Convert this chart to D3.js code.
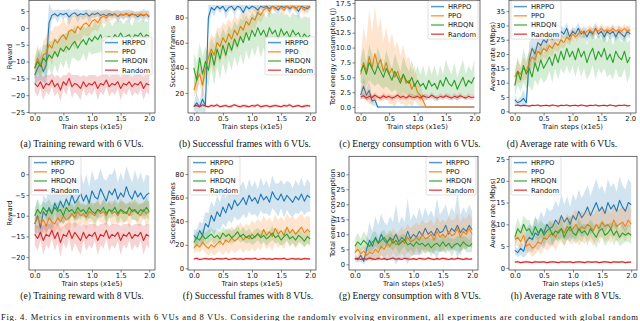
<!DOCTYPE html>
<html lang="en">
<head>
<meta charset="UTF-8">
<title>Fig. 4 - metrics with 6 and 8 VUs</title>
<style>
  body { margin: 0; background: #fff; }
  svg { display: block; }
  .tick text { font-family: "DejaVu Sans", sans-serif; font-size: 6.8px; fill: #111; }
  .tick line { stroke: #333; stroke-width: 0.6; }
  .axis-title { font-family: "DejaVu Sans", sans-serif; font-size: 6.8px; fill: #111; }
  .legend text { font-family: "DejaVu Sans", sans-serif; font-size: 6.8px; fill: #111; }
  .sub { font-family: "Liberation Serif", serif; font-size: 9.6px; fill: #111; }
</style>
<script src="https://cdn.jsdelivr.net/npm/d3@7"></script>
</head>
<body>
<svg id="fig" width="640" height="321"></svg>
<script>
// x grid: 41 logged points, 0.0 .. 2.0 (x1e5 train steps)
const steps = d3.range(41).map(i => i / 20);
const methods = ['HRPPO', 'PPO', 'HRDQN', 'Random'];
const colors = ['#1f77b4', '#ff7f0e', '#2ca02c', '#d62728'];
const xTicks = [0, 0.5, 1.0, 1.5, 2.0];

// (a) training reward, 6 VUs
const rew6_hrppo = [-14, -12, -10.5, -13, -11, 1.5, 3.8, 4.2, 3.5, 4.3, 3.9, 4.4, 3.2, 4.1, 4.5, 3.6, 4.2, 3.9, 4.4, 3.5, 4.2, 4.0, 4.5, 3.7, 4.1, 3.6, 4.3, 3.9, 4.2, 3.4, 4.0, 3.8, 4.3, 3.5, 4.1, 3.9, 3.3, 4.0, 3.6, 4.1, 3.3];
const rew6_ppo = [-12, -9, -11, -8, -7.5, -5, -6, -3.5, -4.5, -3, -2, -3.5, -1, -0.5, -1.5, 0.5, -0.5, 1, 1.5, 0.5, 2, 2.5, 1.5, 3, 3.5, 3, 3.8, 3.6, 4, 3.5, 4.2, 3.8, 4.1, 3.9, 4.3, 3.7, 4.0, 4.2, 3.8, 4.1, 3.6];
const rew6_hrdqn = [-12, -10, -11.5, -9, -10, -8, -9, -7, -8.5, -6, -7, -5.5, -6.5, -5, -4, -6, -4.5, -3.5, -5, -3, -4, -2.5, -3.5, -2, -4, -3, -2.5, -3.5, -2, -3, -1.5, -3, -2.5, -2, -3.5, -2, -2.5, -1.5, -3, -2, -2.5];
const rew6_random = [-16.5, -17.5, -16, -18, -16.5, -17, -15.5, -17.5, -16.5, -18.5, -16, -17, -15, -17.5, -16.5, -17, -18, -16, -17.5, -16.5, -17, -16, -18, -16.5, -17, -15.5, -17.5, -16.5, -17, -16, -18, -16.5, -17, -16, -17.5, -16.5, -17, -16, -18, -16.5, -17];
const rew6_hrppo_sd = [3, 4, 5, 3, 6, 6, 1.5, 1, 2, 1, 1.5, 1, 2.5, 1, 1, 2, 1, 1.5, 1, 2, 1, 1, 1, 1.5, 1, 2, 1, 1, 1, 2, 1, 1.5, 1, 2, 1, 1, 1.5, 1, 2, 1, 2];
const rew6_ppo_sd = [3, 4, 3, 4, 5, 4, 5, 4, 5, 4, 5, 4, 5, 4, 5, 4, 4, 3, 4, 3, 3, 3, 2.5, 2, 2, 2, 1.5, 1.5, 1, 1.5, 1, 1, 1, 1, 1, 1, 1, 1, 1, 1, 1];
const rew6_hrdqn_sd = [3, 4, 3, 4, 5, 4, 5, 4, 5, 4, 5, 4, 6, 4, 5, 4, 5, 4, 5, 4, 4, 5, 4, 5, 4, 4, 5, 4, 4, 5, 4, 4, 5, 4, 4, 5, 4, 4, 5, 4, 4];
const rew6_random_sd = [2.5, 3, 2, 3.5, 2.5, 3, 2, 3, 2.5, 3.5, 2, 3, 2, 3.5, 2.5, 3, 3.5, 2, 3, 2.5, 3, 2, 3.5, 2.5, 3, 2, 3, 2.5, 3, 2, 3.5, 2.5, 3, 2, 3, 2.5, 3, 2, 3.5, 2.5, 3];

// (b) successful frames, 6 VUs
const frm6_hrppo = [9, 12, 9, 15, 10, 80, 88, 86, 89, 87, 89, 85, 88, 89, 86, 89, 88, 84, 89, 87, 89, 88, 86, 89, 88, 89, 87, 89, 88, 86, 89, 88, 89, 87, 89, 88, 85, 89, 88, 87, 89];
const frm6_ppo = [22, 30, 35, 26, 40, 48, 55, 50, 60, 57, 64, 60, 67, 63, 70, 66, 73, 70, 77, 74, 80, 78, 84, 82, 86, 88, 85, 89, 87, 89, 88, 86, 89, 88, 89, 87, 89, 88, 86, 89, 88];
const frm6_hrdqn = [40, 30, 48, 35, 45, 38, 52, 42, 55, 47, 58, 50, 60, 54, 63, 57, 65, 60, 68, 62, 70, 65, 72, 66, 70, 64, 72, 67, 70, 63, 71, 66, 69, 64, 70, 66, 68, 63, 67, 64, 66];
const frm6_random = [9.5, 10, 9, 10.5, 9.5, 9, 10, 9.5, 10.5, 9, 9.5, 10, 9, 9.5, 10.5, 9.5, 9, 10, 9.5, 9, 10, 9.5, 10.5, 9, 9.5, 10, 9, 9.5, 10, 9.5, 9, 10, 9.5, 10.5, 9, 9.5, 10, 9, 9.5, 10, 9.5];
const frm6_hrppo_sd = [3, 8, 4, 10, 6, 10, 4, 5, 2, 4, 2, 6, 3, 2, 5, 2, 3, 6, 2, 4, 2, 3, 5, 2, 3, 2, 4, 2, 3, 5, 2, 3, 2, 4, 2, 3, 6, 2, 3, 4, 2];
const frm6_ppo_sd = [6, 8, 8, 10, 10, 12, 12, 14, 12, 14, 12, 14, 12, 12, 12, 12, 10, 10, 10, 8, 8, 8, 6, 6, 5, 3, 5, 2, 3, 2, 3, 4, 2, 3, 2, 3, 2, 3, 4, 2, 3];
const frm6_hrdqn_sd = [12, 14, 12, 14, 12, 14, 12, 16, 14, 16, 14, 16, 14, 16, 14, 16, 14, 18, 14, 16, 14, 16, 14, 18, 14, 16, 14, 16, 14, 18, 14, 16, 14, 16, 14, 16, 14, 16, 14, 16, 14];
const frm6_random_sd = [1, 1.5, 1, 1.5, 1, 1, 1.5, 1, 1.5, 1, 1, 1.5, 1, 1.5, 1, 1, 1.5, 1, 1.5, 1, 1, 1.5, 1, 1.5, 1, 1, 1.5, 1, 1.5, 1, 1, 1.5, 1, 1.5, 1, 1, 1.5, 1, 1.5, 1, 1];

// (c) energy consumption, 6 VUs
const eng6_hrppo = [2.0, 3.5, 2.0, 2.8, 1.0, 1.2, 0, 0, 0, 0, 0, 0, 0, 0, 0, 0, 0, 0, 0, 0, 0, 0, 0, 0, 0, 0, 0, 0, 0, 0, 0, 0, 0, 0, 0, 0, 0, 0, 0, 0, 0];
const eng6_ppo = [5.5, 7.5, 6, 8.5, 6.5, 9, 7, 8, 6, 7.5, 5.5, 6.5, 5, 6, 4.5, 5.5, 4, 4.5, 3, 4, 2.5, 2, 1, 0, 0, 0, 0, 0, 0, 0, 0, 0, 0, 0, 0, 0, 0, 0, 0, 0, 0];
const eng6_hrdqn = [6, 7, 5.5, 7.5, 6.5, 5.5, 7, 6, 5, 6.5, 5.5, 4.5, 6, 5, 4, 5.5, 4.5, 4, 5, 3.5, 4.5, 3.5, 4, 3, 4.5, 3.5, 4, 3, 4.5, 3.5, 5, 4, 3.5, 4.5, 3, 4, 5, 3.5, 4.5, 4, 5];
const eng6_random = [1.7, 1.9, 1.5, 1.8, 1.6, 2.0, 1.7, 1.5, 1.9, 1.6, 1.8, 1.5, 1.7, 2.0, 1.6, 1.8, 1.5, 1.9, 1.7, 1.6, 1.8, 1.5, 1.9, 1.7, 1.6, 2.0, 1.7, 1.5, 1.8, 1.6, 1.9, 1.7, 1.5, 1.8, 1.6, 1.9, 1.7, 1.5, 1.8, 1.6, 1.7];
const eng6_hrppo_sd = [1.0, 1.5, 1.0, 1.5, 0.8, 1.0, 0.2, 0, 0, 0, 0, 0, 0, 0, 0, 0, 0, 0, 0, 0, 0, 0, 0, 0, 0, 0, 0, 0, 0, 0, 0, 0, 0, 0, 0, 0, 0, 0, 0, 0, 0];
const eng6_ppo_sd = [3, 6, 5, 8, 6, 8, 6, 7, 5, 6, 5, 6, 5, 5, 4, 5, 4, 4, 3, 3, 2, 2, 1, 0, 0, 0, 0, 0, 0, 0, 0, 0, 0, 0, 0, 0, 0, 0, 0, 0, 0];
const eng6_hrdqn_sd = [2, 3, 2, 3, 2.5, 2, 3, 2.5, 2, 3, 2.5, 2, 3, 2.5, 2, 3, 2.5, 2, 3, 2, 2.5, 2, 3, 2, 2.5, 2, 3, 2, 2.5, 2, 3, 2.5, 2, 3, 2, 2.5, 3, 2, 2.5, 2, 3];
const eng6_random_sd = [0.4, 0.5, 0.3, 0.5, 0.4, 0.5, 0.3, 0.4, 0.5, 0.4, 0.4, 0.5, 0.3, 0.5, 0.4, 0.5, 0.3, 0.4, 0.5, 0.4, 0.4, 0.5, 0.3, 0.5, 0.4, 0.5, 0.3, 0.4, 0.5, 0.4, 0.4, 0.5, 0.3, 0.5, 0.4, 0.5, 0.3, 0.4, 0.5, 0.4, 0.4];

// (d) average rate, 6 VUs
const rate6_hrppo = [4, 3, 3.5, 4.5, 3, 18, 22, 20, 24, 23, 25, 24, 27, 25, 27, 26, 28, 27, 29, 26, 28, 27, 29, 27, 28, 26, 28, 27, 29, 27, 28, 26, 28, 27, 28, 26, 28, 27, 26, 28, 27];
const rate6_ppo = [12, 14, 13, 15, 14, 17, 19, 18, 21, 20, 22, 21, 23, 22, 24, 23, 25, 24, 26, 25, 27, 26, 27, 28, 27, 28, 28.5, 27.5, 28.5, 28, 29, 28, 28.5, 28, 29, 28, 28.5, 28, 29, 28, 28.5];
const rate6_hrdqn = [9, 14, 11, 16, 13, 15, 12, 17, 14, 18, 15, 17, 19, 16, 20, 17, 21, 18, 22, 19, 21, 18, 22, 19, 21, 17, 20, 22, 18, 21, 19, 22, 18, 20, 17, 21, 19, 18, 21, 17, 19];
const rate6_random = [2.0, 2.2, 1.9, 2.1, 2.0, 1.8, 2.1, 2.0, 2.2, 1.9, 2.0, 2.1, 1.9, 2.2, 2.0, 1.8, 2.1, 2.0, 2.2, 1.9, 2.0, 2.1, 1.9, 2.2, 2.0, 1.8, 2.1, 2.0, 2.2, 1.9, 2.0, 2.1, 1.9, 2.2, 2.0, 1.8, 2.1, 2.0, 2.2, 1.9, 2.0];
const rate6_hrppo_sd = [1.5, 1, 1.5, 3, 1.5, 6, 4, 5, 3, 4, 3, 3, 2, 3, 2, 2, 2, 2, 2, 2, 1.5, 2, 2, 1.5, 2, 2, 1.5, 2, 2, 1.5, 2, 2, 1.5, 2, 2, 1.5, 2, 2, 1.5, 2, 1.5];
const rate6_ppo_sd = [3, 4, 3, 4, 3, 4, 4, 3, 4, 3, 3, 3, 3, 3, 2.5, 2.5, 2.5, 2, 2, 2, 2, 2, 1.5, 1.5, 1.5, 1.5, 1.5, 1.5, 1.5, 1.5, 1.5, 1.5, 1.5, 1.5, 1.5, 1.5, 1.5, 1.5, 1.5, 1.5, 1.5];
const rate6_hrdqn_sd = [4, 5, 4, 6, 5, 6, 5, 6, 5, 6, 5, 6, 5, 6, 5, 6, 6, 5, 6, 6, 5, 6, 6, 7, 6, 6, 7, 6, 7, 6, 6, 7, 6, 7, 6, 6, 7, 6, 6, 7, 6];
const rate6_random_sd = [0.3, 0.3, 0.2, 0.3, 0.3, 0.2, 0.3, 0.3, 0.2, 0.3, 0.3, 0.3, 0.2, 0.3, 0.3, 0.2, 0.3, 0.3, 0.2, 0.3, 0.3, 0.3, 0.2, 0.3, 0.3, 0.2, 0.3, 0.3, 0.2, 0.3, 0.3, 0.3, 0.2, 0.3, 0.3, 0.2, 0.3, 0.3, 0.2, 0.3, 0.3];

// (e) training reward, 8 VUs
const rew8_hrppo = [-12, -10, -13, -9, -10, -8, -9.5, -7, -8.5, -6.5, -8, -6, -7.5, -5, -7, -6, -4.5, -6.5, -5, -7, -4, -5.5, -6, -3.5, -5, -6.5, -4, -5, -3.5, -6, -4.5, -5.5, -3, -5, -6, -4, -5.5, -4.5, -6, -5, -4.5];
const rew8_ppo = [-12, -10.5, -12, -11, -12.5, -10.5, -11.5, -12, -10.5, -11.5, -10, -11, -10.5, -9.5, -10.5, -9, -10, -9.5, -10.5, -9, -9.5, -10, -8.5, -9.5, -9, -10, -8.5, -9.5, -9, -10, -8.5, -9.5, -9, -10, -8.5, -9, -9.5, -10, -8.5, -9.5, -9];
const rew8_hrdqn = [-10, -8.5, -9.5, -8, -9, -8.5, -9.5, -8, -9, -8.5, -10, -8, -9, -8.5, -9.5, -8, -9, -8.5, -9.5, -8, -9, -9.5, -8.5, -9, -8, -9.5, -8.5, -9, -8, -9.5, -8.5, -9, -9.5, -8, -9, -8.5, -9.5, -8.5, -9, -8, -9];
const rew8_random = [-14.5, -15.5, -14, -16, -14.5, -15, -13.5, -15.5, -14, -16.5, -14.5, -15, -13.5, -15.5, -14, -15, -16, -14, -15.5, -14.5, -15, -14, -16, -14.5, -15, -13.5, -15.5, -14.5, -15, -14, -16, -14.5, -15, -14, -15.5, -14.5, -15, -14, -16, -14.5, -15];
const rew8_hrppo_sd = [3, 4, 3, 4, 4, 5, 4, 5, 4, 5, 4, 5, 4, 5, 4, 5, 5, 4, 5, 4, 5, 4, 5, 5, 4, 5, 4, 5, 5, 4, 5, 4, 5, 5, 4, 5, 4, 5, 4, 5, 4];
const rew8_ppo_sd = [2, 2.5, 2, 3, 2, 2.5, 3, 2, 2.5, 3, 2, 2.5, 3, 2, 2.5, 3, 2.5, 2, 3, 2.5, 2, 3, 2.5, 2, 3, 2.5, 2, 3, 2.5, 2, 3, 2.5, 2, 3, 2.5, 2, 3, 2.5, 2, 3, 2.5];
const rew8_hrdqn_sd = [2, 2.5, 2, 1.5, 2, 2.5, 2, 1.5, 2, 2.5, 2, 2.5, 2, 1.5, 2, 2.5, 2, 1.5, 2, 2.5, 2, 2.5, 2, 1.5, 2, 2.5, 2, 1.5, 2, 2.5, 2, 2.5, 2, 1.5, 2, 2.5, 2, 1.5, 2, 2.5, 2];
const rew8_random_sd = [2.5, 3, 2, 3.5, 2.5, 3, 2, 3, 2.5, 3.5, 2, 3, 2, 3.5, 2.5, 3, 3.5, 2, 3, 2.5, 3, 2, 3.5, 2.5, 3, 2, 3, 2.5, 3, 2, 3.5, 2.5, 3, 2, 3, 2.5, 3, 2, 3.5, 2.5, 3];

// (f) successful frames, 8 VUs
const frm8_hrppo = [28, 25, 32, 28, 38, 35, 45, 40, 48, 44, 52, 47, 55, 50, 58, 53, 56, 60, 54, 62, 57, 60, 55, 63, 58, 61, 56, 65, 60, 58, 63, 57, 62, 59, 56, 61, 58, 63, 57, 62, 60];
const frm8_ppo = [17, 20, 18, 22, 19, 17, 20, 18, 21, 23, 20, 24, 22, 26, 23, 25, 28, 24, 27, 25, 29, 26, 30, 27, 33, 28, 31, 27, 34, 29, 32, 28, 35, 30, 33, 29, 32, 35, 30, 33, 31];
const frm8_hrdqn = [22, 26, 24, 28, 25, 27, 29, 26, 28, 25, 30, 27, 29, 26, 28, 31, 27, 29, 26, 28, 25, 27, 29, 26, 28, 25, 27, 30, 26, 28, 24, 27, 29, 25, 27, 24, 28, 26, 23, 27, 25];
const frm8_random = [8, 8.5, 7.5, 8, 8.4, 7.8, 8.2, 7.6, 8.3, 8, 8, 8.5, 7.5, 8, 8.4, 7.8, 8.2, 7.6, 8.3, 8, 8, 8.5, 7.5, 8, 8.4, 7.8, 8.2, 7.6, 8.3, 8, 8, 8.5, 7.5, 8, 8.4, 7.8, 8.2, 7.6, 8.3, 8, 8];
const frm8_hrppo_sd = [5, 8, 8, 10, 10, 12, 12, 12, 14, 12, 14, 12, 14, 12, 14, 12, 14, 14, 12, 14, 12, 14, 12, 14, 12, 14, 12, 14, 12, 14, 12, 14, 12, 14, 12, 14, 12, 14, 12, 14, 12];
const frm8_ppo_sd = [4, 5, 5, 6, 6, 6, 7, 7, 8, 8, 9, 9, 10, 10, 10, 10, 11, 11, 11, 11, 12, 12, 12, 12, 12, 12, 12, 12, 12, 12, 12, 12, 12, 12, 12, 12, 12, 12, 12, 12, 12];
const frm8_hrdqn_sd = [5, 6, 5, 6, 5, 6, 5, 6, 5, 6, 5, 6, 5, 6, 5, 6, 5, 6, 5, 6, 5, 6, 5, 6, 5, 6, 5, 6, 5, 6, 5, 6, 5, 6, 5, 6, 5, 6, 5, 6, 5];
const frm8_random_sd = [1, 1.2, 1, 1.2, 1, 1, 1.2, 1, 1.2, 1, 1, 1.2, 1, 1.2, 1, 1, 1.2, 1, 1.2, 1, 1, 1.2, 1, 1.2, 1, 1, 1.2, 1, 1.2, 1, 1, 1.2, 1, 1.2, 1, 1, 1.2, 1, 1.2, 1, 1];

// (g) energy consumption, 8 VUs
const eng8_hrppo = [2, 1.5, 3, 1, 5, 8, 6, 9, 7, 10, 8, 7, 9, 8, 10, 7.5, 9, 8, 11, 8.5, 10, 9, 11, 9.5, 12, 10, 11, 9.5, 12, 10.5, 11, 13, 10, 12, 11, 13, 10.5, 12, 11, 13, 11.5];
const eng8_ppo = [4, 5, 3.5, 4.5, 3, 4, 3.5, 5, 4, 6, 5, 7, 6, 8, 6.5, 7, 8, 7, 9, 7.5, 8, 9, 8, 10, 8.5, 9, 10, 8, 11, 9, 10, 9, 11, 9.5, 10, 12, 9, 11, 10, 12, 10];
const eng8_hrdqn = [6, 7.5, 6.5, 8, 7, 6, 7.5, 8.5, 7, 8, 9, 7.5, 8.5, 7, 8, 6.5, 7.5, 8, 6.5, 7, 6, 7.5, 6.5, 7, 6, 7, 5.5, 6.5, 7, 6, 7.5, 6, 7, 5.5, 6.5, 7, 6, 7.5, 6.5, 6, 7];
const eng8_random = [1.8, 2.0, 1.6, 1.9, 1.7, 2.1, 1.8, 1.6, 2.0, 1.7, 1.9, 1.6, 1.8, 2.1, 1.7, 1.9, 1.6, 2.0, 1.8, 1.7, 1.9, 1.6, 2.0, 1.8, 1.7, 2.1, 1.8, 1.6, 1.9, 1.7, 2.0, 1.8, 1.6, 1.9, 1.7, 2.0, 1.8, 1.6, 1.9, 1.7, 1.8];
const eng8_hrppo_sd = [1, 1, 2, 1, 4, 6, 5, 7, 6, 7, 6, 6, 7, 6, 10, 6, 7, 6, 11, 6, 7, 6, 8, 6, 7, 6, 7, 6, 10, 6, 7, 7, 6, 7, 6, 11, 6, 7, 6, 7, 6];
const eng8_ppo_sd = [2, 2, 2, 2, 2, 2.5, 2.5, 3, 3, 3, 3.5, 3.5, 4, 4, 4, 4, 4.5, 4.5, 4.5, 4.5, 5, 5, 5, 5, 5, 5, 5, 5, 5, 5, 5, 5, 5, 5, 5, 5, 5, 5, 5, 5, 5];
const eng8_hrdqn_sd = [2.5, 3, 2, 3, 2.5, 2, 3, 2.5, 2, 3, 2.5, 2, 3, 2.5, 2, 3, 2.5, 2, 3, 2, 2.5, 2, 3, 2, 2.5, 2, 3, 2, 2.5, 2, 3, 2.5, 2, 3, 2, 2.5, 3, 2, 2.5, 2, 3];
const eng8_random_sd = [0.4, 0.5, 0.3, 0.5, 0.4, 0.5, 0.3, 0.4, 0.5, 0.4, 0.4, 0.5, 0.3, 0.5, 0.4, 0.5, 0.3, 0.4, 0.5, 0.4, 0.4, 0.5, 0.3, 0.5, 0.4, 0.5, 0.3, 0.4, 0.5, 0.4, 0.4, 0.5, 0.3, 0.5, 0.4, 0.5, 0.3, 0.4, 0.5, 0.4, 0.4];

// (h) average rate, 8 VUs
const rate8_hrppo = [4, 3.5, 4.5, 3.8, 6, 7, 6.5, 8, 7.5, 9, 8, 10, 9, 9.5, 11, 10, 12, 10.5, 11.5, 10, 12, 11, 13, 11.5, 12.5, 14, 12, 13.5, 15, 13, 14, 12.5, 15, 13.5, 14.5, 13, 15.5, 14, 13, 15, 14.5];
const rate8_ppo = [6.5, 7, 6, 7.5, 5, 5.5, 4.5, 5, 6, 5.5, 7, 6.5, 7.5, 8, 7, 8.5, 9, 8, 9.5, 8.5, 9, 10, 8.5, 9.5, 9, 10, 9.5, 8.5, 10, 9, 10.5, 9.5, 10, 9, 11, 9.5, 10, 10.5, 9.5, 11, 10];
const rate8_hrdqn = [7, 9, 8, 10, 8.5, 9, 7.5, 9.5, 8, 9, 7.5, 8.5, 9, 7.5, 8.5, 8, 9, 7, 8.5, 9.5, 8, 7.5, 9, 8, 8.5, 7.5, 9, 8, 7, 8.5, 9, 7.5, 8, 9, 7.5, 8.5, 7, 8, 7.5, 8, 7.5];
const rate8_random = [1.3, 1.4, 1.2, 1.3, 1.4, 1.3, 1.2, 1.4, 1.3, 1.3, 1.4, 1.2, 1.3, 1.4, 1.3, 1.2, 1.4, 1.3, 1.3, 1.4, 1.2, 1.3, 1.4, 1.3, 1.2, 1.4, 1.3, 1.3, 1.4, 1.2, 1.3, 1.4, 1.3, 1.2, 1.4, 1.3, 1.3, 1.4, 1.2, 1.3, 1.3];
const rate8_hrppo_sd = [1, 1, 1.5, 1.5, 3, 3, 3, 3.5, 3.5, 4, 3.5, 4, 4, 4, 4.5, 4, 5, 4, 5, 4, 5, 4.5, 5, 4.5, 5, 5, 4.5, 5, 5.5, 5, 5, 4.5, 5.5, 5, 5, 4.5, 5.5, 5, 5, 5.5, 5];
const rate8_ppo_sd = [1.5, 2, 1.5, 2, 1.5, 2, 2, 2, 2, 2.5, 2.5, 2.5, 3, 3, 3, 3, 3, 3, 3, 3, 3.5, 3.5, 3.5, 3.5, 3.5, 3.5, 3.5, 3.5, 3.5, 3.5, 3.5, 3.5, 3.5, 3.5, 3.5, 3.5, 3.5, 3.5, 3.5, 3.5, 3.5];
const rate8_hrdqn_sd = [2, 2.5, 1.5, 2, 2.5, 2, 1.5, 2.5, 2, 2, 2.5, 1.5, 2, 2.5, 2, 1.5, 2.5, 2, 2, 2.5, 1.5, 2, 2.5, 2, 1.5, 2.5, 2, 2, 2.5, 1.5, 2, 2.5, 2, 1.5, 2.5, 2, 2, 2.5, 1.5, 2, 2];
const rate8_random_sd = [0.2, 0.3, 0.2, 0.2, 0.3, 0.2, 0.2, 0.3, 0.2, 0.2, 0.3, 0.2, 0.2, 0.3, 0.2, 0.2, 0.3, 0.2, 0.2, 0.3, 0.2, 0.2, 0.3, 0.2, 0.2, 0.3, 0.2, 0.2, 0.3, 0.2, 0.2, 0.3, 0.2, 0.2, 0.3, 0.2, 0.2, 0.3, 0.2, 0.2, 0.2];

const figCaption = 'Fig. 4.  Metrics in environments with 6 VUs and 8 VUs. Considering the randomly evolving environment, all experiments are conducted with global random';

// layout for each subplot: plot box [left, top, right, bottom]
const panels = [
  { id: 'a', box: [29, 0, 155, 113], ylim: [-25.3, 8.3], yticks: [-25, -20, -15, -10, -5, 0, 5], yfmt: 'd',
    ylabel: 'Reward', ylabelX: 10, caption: '(a) Training reward with 6 VUs.', capX: 82, capY: 147, legend: [102, 37],
    means: [rew6_hrppo, rew6_ppo, rew6_hrdqn, rew6_random], sds: [rew6_hrppo_sd, rew6_ppo_sd, rew6_hrdqn_sd, rew6_random_sd] },
  { id: 'b', box: [188, 0, 316, 113], ylim: [4, 94], yticks: [20, 40, 60, 80], yfmt: 'd', cap: 90,
    ylabel: 'Successful frames', ylabelX: 173, caption: '(b) Successful frames with 6 VUs.', capX: 245, capY: 147, legend: [265, 37],
    means: [frm6_hrppo, frm6_ppo, frm6_hrdqn, frm6_random], sds: [frm6_hrppo_sd, frm6_ppo_sd, frm6_hrdqn_sd, frm6_random_sd] },
  { id: 'c', box: [355, 0, 480, 113], ylim: [-1.0, 18.0], yticks: [0, 2.5, 5, 7.5, 10, 12.5, 15, 17.5], yfmt: '.1f',
    ylabel: 'Total energy consumption (J)', ylabelX: 333, caption: '(c) Energy consumption with 6 VUs.', capX: 410, capY: 147, legend: [428, 1],
    means: [eng6_hrppo, eng6_ppo, eng6_hrdqn, eng6_random], sds: [eng6_hrppo_sd, eng6_ppo_sd, eng6_hrdqn_sd, eng6_random_sd] },
  { id: 'd', box: [509, 0, 636, 113], ylim: [-0.6, 38.9], yticks: [0, 5, 10, 15, 20, 25, 30, 35], yfmt: 'd',
    ylabel: 'Average rate (Mbps)', ylabelX: 493, caption: '(d) Average rate with 6 VUs.', capX: 562, capY: 147, legend: [511, 1],
    means: [rate6_hrppo, rate6_ppo, rate6_hrdqn, rate6_random], sds: [rate6_hrppo_sd, rate6_ppo_sd, rate6_hrdqn_sd, rate6_random_sd] },
  { id: 'e', box: [29, 156, 155, 270], ylim: [-23.1, 4.4], yticks: [-20, -15, -10, -5, 0], yfmt: 'd',
    ylabel: 'Reward', ylabelX: 10, caption: '(e) Training reward with 8 VUs.', capX: 82, capY: 299, legend: [31, 157],
    means: [rew8_hrppo, rew8_ppo, rew8_hrdqn, rew8_random], sds: [rew8_hrppo_sd, rew8_ppo_sd, rew8_hrdqn_sd, rew8_random_sd] },
  { id: 'f', box: [188, 156, 316, 270], ylim: [-1.4, 95.3], yticks: [0, 20, 40, 60, 80], yfmt: 'd',
    ylabel: 'Successful frames', ylabelX: 173, caption: '(f) Successful frames with 8 VUs.', capX: 248, capY: 299, legend: [190, 157],
    means: [frm8_hrppo, frm8_ppo, frm8_hrdqn, frm8_random], sds: [frm8_hrppo_sd, frm8_ppo_sd, frm8_hrdqn_sd, frm8_random_sd] },
  { id: 'g', box: [349, 156, 478, 270], ylim: [-1.9, 36.1], yticks: [0, 5, 10, 15, 20, 25, 30], yfmt: 'd',
    ylabel: 'Total energy consumption', ylabelX: 333, caption: '(g) Energy consumption with 8 VUs.', capX: 410, capY: 299, legend: [426, 157],
    means: [eng8_hrppo, eng8_ppo, eng8_hrdqn, eng8_random], sds: [eng8_hrppo_sd, eng8_ppo_sd, eng8_hrdqn_sd, eng8_random_sd] },
  { id: 'h', box: [509, 156, 637, 270], ylim: [-0.5, 25.7], yticks: [0, 5, 10, 15, 20, 25], yfmt: 'd',
    ylabel: 'Average rate (Mbps)', ylabelX: 493, caption: '(h) Average rate with 8 VUs.', capX: 566, capY: 299, legend: [511, 157],
    means: [rate8_hrppo, rate8_ppo, rate8_hrdqn, rate8_random], sds: [rate8_hrppo_sd, rate8_ppo_sd, rate8_hrdqn_sd, rate8_random_sd] }
];

const svg = d3.select('#fig');
const defs = svg.append('defs');
const minus = s => s.replace('-', '\u2212');

panels.forEach(drawPanel);

svg.append('text')
  .attr('class', 'sub')
  .attr('x', 1).attr('y', 320)
  .attr('textLength', 637).attr('lengthAdjust', 'spacing')
  .style('font-size', '8.6px')
  .text(figCaption);

function drawPanel(p) {
  const [x0, y0, x1, y1] = p.box;
  const x = d3.scaleLinear().domain([-0.1, 2.1]).range([x0, x1]);
  const y = d3.scaleLinear().domain(p.ylim).range([y1, y0]);
  const g = svg.append('g').attr('class', 'panel-' + p.id);

  defs.append('clipPath').attr('id', 'clip-' + p.id)
    .append('rect').attr('x', x0).attr('y', y0).attr('width', x1 - x0).attr('height', y1 - y0);

  const plot = g.append('g').attr('clip-path', `url(#clip-${p.id})`);
  const top = v => p.cap !== undefined ? Math.min(v, p.cap) : v;

  p.means.forEach((m, k) => {
    const sd = p.sds[k];
    const band = d3.area()
      .x((d, i) => x(steps[i]))
      .y0((d, i) => y(m[i] - sd[i]))
      .y1((d, i) => y(top(m[i] + sd[i])));
    plot.append('path').datum(m)
      .attr('d', band)
      .attr('fill', colors[k])
      .attr('fill-opacity', 0.2);

    const line = d3.line().x((d, i) => x(steps[i])).y(d => y(d));
    plot.append('path').datum(m)
      .attr('d', line)
      .attr('fill', 'none')
      .attr('stroke', colors[k])
      .attr('stroke-width', 1.1)
      .attr('stroke-linejoin', 'round');
  });

  // axes
  const xAxis = d3.axisBottom(x).tickValues(xTicks).tickFormat(d3.format('.1f')).tickSize(2.5).tickPadding(1);
  g.append('g').attr('transform', `translate(0,${y1})`).call(xAxis)
    .call(a => a.select('.domain').remove());

  const fmt = d3.format(p.yfmt);
  const yAxis = d3.axisLeft(y).tickValues(p.yticks).tickFormat(d => minus(fmt(d))).tickSize(2.5).tickPadding(1.5);
  g.append('g').attr('transform', `translate(${x0},0)`).call(yAxis)
    .call(a => a.select('.domain').remove());

  g.append('rect')
    .attr('x', x0).attr('y', y0 + 0.3)
    .attr('width', x1 - x0).attr('height', y1 - y0 - 0.3)
    .attr('fill', 'none').attr('stroke', '#333').attr('stroke-width', 0.7);

  g.append('text').attr('class', 'axis-title')
    .attr('x', (x0 + x1) / 2).attr('y', y1 + 15.5)
    .attr('text-anchor', 'middle')
    .text('Train steps (x1e5)');

  g.append('text').attr('class', 'axis-title')
    .attr('transform', `translate(${p.ylabelX},${(y0 + y1) / 2}) rotate(-90)`)
    .attr('text-anchor', 'middle')
    .attr('dy', '0.35em')
    .text(p.ylabel);

  g.append('text').attr('class', 'sub')
    .attr('x', p.capX).attr('y', p.capY)
    .attr('text-anchor', 'middle')
    .text(p.caption);

  drawLegend(g, p.legend);
}

function drawLegend(g, pos) {
  const lg = g.append('g').attr('class', 'legend').attr('transform', `translate(${pos[0]},${pos[1]})`);
  lg.append('rect')
    .attr('width', 50).attr('height', 38).attr('rx', 1.5)
    .attr('fill', '#fff').attr('fill-opacity', 0.8)
    .attr('stroke', '#ccc').attr('stroke-width', 0.6);
  methods.forEach((name, k) => {
    const cy = 5.6 + k * 9.2;
    lg.append('line')
      .attr('x1', 3).attr('x2', 16).attr('y1', cy).attr('y2', cy)
      .attr('stroke', colors[k]).attr('stroke-width', 1.5).attr('stroke-opacity', 0.75);
    lg.append('text').attr('x', 20).attr('y', cy).attr('dy', '0.35em').text(name);
  });
}
</script>
</body>
</html>
